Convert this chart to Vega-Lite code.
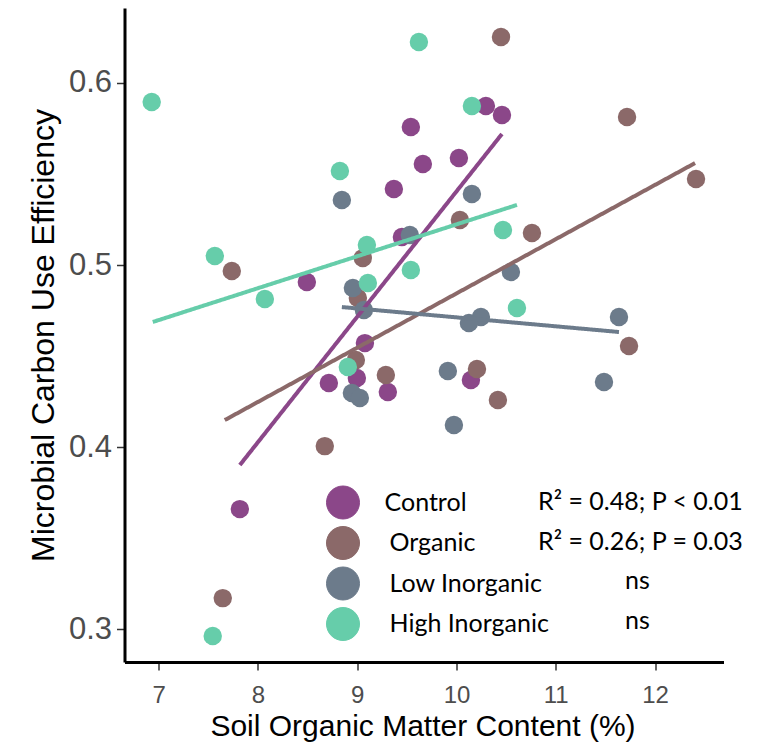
{
  "$schema": "https://vega.github.io/schema/vega-lite/v6.json",
  "width": 599,
  "height": 654,
  "autosize": {"type": "none"},
  "padding": {"left": 124.5, "top": 8, "right": 40.5, "bottom": 82},
  "background": "white",
  "config": {"view": {"stroke": null}, "axis": {"grid": false}},
  "datasets": {
    "points": [
      {"group": "Control", "som": 10.296, "cue": 0.5874},
      {"group": "Control", "som": 10.458, "cue": 0.5824},
      {"group": "Control", "som": 9.54, "cue": 0.5758},
      {"group": "Control", "som": 9.661, "cue": 0.5555},
      {"group": "Control", "som": 9.369, "cue": 0.5418},
      {"group": "Control", "som": 10.024, "cue": 0.5588},
      {"group": "Control", "som": 9.45, "cue": 0.5154},
      {"group": "Control", "som": 8.492, "cue": 0.4907},
      {"group": "Control", "som": 9.077, "cue": 0.4571},
      {"group": "Control", "som": 8.714, "cue": 0.4352},
      {"group": "Control", "som": 8.996, "cue": 0.4379},
      {"group": "Control", "som": 9.308, "cue": 0.4302},
      {"group": "Control", "som": 10.145, "cue": 0.4368},
      {"group": "Control", "som": 7.817, "cue": 0.3659},
      {"group": "Organic", "som": 10.448, "cue": 0.6253},
      {"group": "Organic", "som": 11.718, "cue": 0.5813},
      {"group": "Organic", "som": 12.413, "cue": 0.5473},
      {"group": "Organic", "som": 10.76, "cue": 0.5176},
      {"group": "Organic", "som": 7.736, "cue": 0.4967},
      {"group": "Organic", "som": 10.034, "cue": 0.5247},
      {"group": "Organic", "som": 9.056, "cue": 0.5038},
      {"group": "Organic", "som": 9.006, "cue": 0.4819},
      {"group": "Organic", "som": 8.986, "cue": 0.4478},
      {"group": "Organic", "som": 9.288, "cue": 0.4396},
      {"group": "Organic", "som": 10.206, "cue": 0.4429},
      {"group": "Organic", "som": 10.417, "cue": 0.4258},
      {"group": "Organic", "som": 11.738, "cue": 0.4555},
      {"group": "Organic", "som": 8.673, "cue": 0.4005},
      {"group": "Organic", "som": 7.645, "cue": 0.317},
      {"group": "Low Inorganic", "som": 8.845, "cue": 0.5357},
      {"group": "Low Inorganic", "som": 10.155, "cue": 0.539},
      {"group": "Low Inorganic", "som": 10.548, "cue": 0.4962},
      {"group": "Low Inorganic", "som": 10.246, "cue": 0.4714},
      {"group": "Low Inorganic", "som": 10.125, "cue": 0.4681},
      {"group": "Low Inorganic", "som": 11.637, "cue": 0.4714},
      {"group": "Low Inorganic", "som": 11.486, "cue": 0.4357},
      {"group": "Low Inorganic", "som": 9.913, "cue": 0.4418},
      {"group": "Low Inorganic", "som": 9.974, "cue": 0.4121},
      {"group": "Low Inorganic", "som": 8.956, "cue": 0.4874},
      {"group": "Low Inorganic", "som": 9.067, "cue": 0.4753},
      {"group": "Low Inorganic", "som": 8.946, "cue": 0.4297},
      {"group": "Low Inorganic", "som": 9.026, "cue": 0.4269},
      {"group": "Low Inorganic", "som": 9.53, "cue": 0.5165},
      {"group": "High Inorganic", "som": 6.929, "cue": 0.5896},
      {"group": "High Inorganic", "som": 9.621, "cue": 0.6225},
      {"group": "High Inorganic", "som": 10.155, "cue": 0.5874},
      {"group": "High Inorganic", "som": 8.825, "cue": 0.5516},
      {"group": "High Inorganic", "som": 7.565, "cue": 0.5049},
      {"group": "High Inorganic", "som": 8.069, "cue": 0.4813},
      {"group": "High Inorganic", "som": 9.097, "cue": 0.511},
      {"group": "High Inorganic", "som": 9.107, "cue": 0.4901},
      {"group": "High Inorganic", "som": 9.54, "cue": 0.4973},
      {"group": "High Inorganic", "som": 10.468, "cue": 0.5192},
      {"group": "High Inorganic", "som": 10.609, "cue": 0.4764},
      {"group": "High Inorganic", "som": 7.544, "cue": 0.2962},
      {"group": "High Inorganic", "som": 8.905, "cue": 0.444}
    ],
    "fits": [
      {"group": "Control", "stat": "R² = 0.48; P < 0.01", "som": 7.817, "cue": 0.3901},
      {"group": "Control", "stat": "R² = 0.48; P < 0.01", "som": 10.458, "cue": 0.572},
      {"group": "Organic", "stat": "R² = 0.26; P = 0.03", "som": 7.665, "cue": 0.4148},
      {"group": "Organic", "stat": "R² = 0.26; P = 0.03", "som": 12.403, "cue": 0.556},
      {"group": "Low Inorganic", "stat": "ns (Low Inorganic)", "som": 8.845, "cue": 0.4769},
      {"group": "Low Inorganic", "stat": "ns (Low Inorganic)", "som": 11.637, "cue": 0.4632},
      {"group": "High Inorganic", "stat": "ns (High Inorganic)", "som": 6.94, "cue": 0.4687},
      {"group": "High Inorganic", "stat": "ns (High Inorganic)", "som": 10.609, "cue": 0.533}
    ]
  },
  "layer": [
    {
      "data": {"name": "points"},
      "mark": {"type": "point", "filled": true, "size": 340, "opacity": 1, "shape": "circle"},
      "encoding": {
        "x": {
          "field": "som", "type": "quantitative",
          "scale": {"domain": [6.655, 12.69], "nice": false, "zero": false},
          "axis": {
            "title": "Soil Organic Matter Content (%)",
            "values": [7, 8, 9, 10, 11, 12], "format": "d",
            "labelFont": "Liberation Sans", "labelFontSize": 24, "labelColor": "#4D4D4D",
            "labelPadding": 13, "labelFlush": false, "labelOverlap": false,
            "tickSize": 8, "tickColor": "#333333", "tickWidth": 1.5,
            "domainColor": "black", "domainWidth": 3,
            "titleFont": "Liberation Sans", "titleFontSize": 30, "titleFontWeight": "normal", "titleColor": "black",
            "titleX": 298, "titleY": 73, "titleBaseline": "alphabetic", "titleAlign": "center", "titleAnchor": null
          }
        },
        "y": {
          "field": "cue", "type": "quantitative",
          "scale": {"domain": [0.2819, 0.6412], "nice": false, "zero": false},
          "axis": {
            "title": "Microbial Carbon Use Efficiency",
            "values": [0.3, 0.4, 0.5, 0.6], "format": ".1f",
            "labelFont": "Liberation Sans", "labelFontSize": 31, "labelColor": "#4D4D4D",
            "labelPadding": 5, "labelFlush": false, "labelOverlap": false,
            "tickSize": 8, "tickColor": "#333333", "tickWidth": 1.5,
            "domainColor": "black", "domainWidth": 3,
            "titleFont": "Liberation Sans", "titleFontSize": 32, "titleFontWeight": "normal", "titleColor": "black",
            "titleX": -71.5, "titleY": 327, "titleAngle": -90, "titleBaseline": "alphabetic", "titleAlign": "center", "titleAnchor": null
          }
        },
        "color": {
          "field": "group", "type": "nominal",
          "scale": {"domain": ["Control", "Organic", "Low Inorganic", "High Inorganic"], "range": ["#8B4789", "#8B6969", "#6C7B8B", "#66CDAA"]},
          "legend": {
            "title": null, "orient": "none", "legendX": 201.5, "legendY": 477.5, "padding": 0,
            "symbolType": "circle", "symbolSize": 1089, "symbolStrokeColor": "#3C5A99", "symbolStrokeWidth": 1, "symbolOpacity": 1,
            "labelFont": "Lato", "labelFontSize": 25, "labelColor": "black", "labelOffset": 24.5, "labelLimit": 400,
            "rowPadding": 2.5,
            "encode": {"labels": {"update": {"dx": {"signal": "datum.value === 'Control' ? 0 : 5"}}}}
          }
        }
      }
    },
    {
      "data": {"name": "fits"},
      "mark": {"type": "line", "strokeWidth": 4, "strokeCap": "butt"},
      "encoding": {
        "x": {"field": "som", "type": "quantitative"},
        "y": {"field": "cue", "type": "quantitative"},
        "color": {"field": "group", "type": "nominal"},
        "strokeDash": {
          "field": "stat", "type": "nominal",
          "scale": {"domain": ["R² = 0.48; P < 0.01", "R² = 0.26; P = 0.03", "ns (Low Inorganic)", "ns (High Inorganic)"], "range": [[1, 0], [1, 0], [1, 0], [1, 0]]},
          "legend": {
            "title": null, "orient": "none", "legendX": 356, "legendY": 477.5, "padding": 0,
            "symbolType": "circle", "symbolSize": 1089, "symbolOpacity": 0, "symbolStrokeWidth": 0,
            "labelFont": "Lato", "labelFontSize": 25, "labelColor": "black", "labelOffset": 24.5, "labelLimit": 400,
            "rowPadding": 6.5,
            "labelExpr": "indexof(datum.label, 'ns') === 0 ? 'ns' : datum.label",
            "encode": {"labels": {"update": {"dx": {"signal": "indexof(datum.value, 'ns') === 0 ? 87 : 0"}}}}
          }
        }
      }
    }
  ]
}
